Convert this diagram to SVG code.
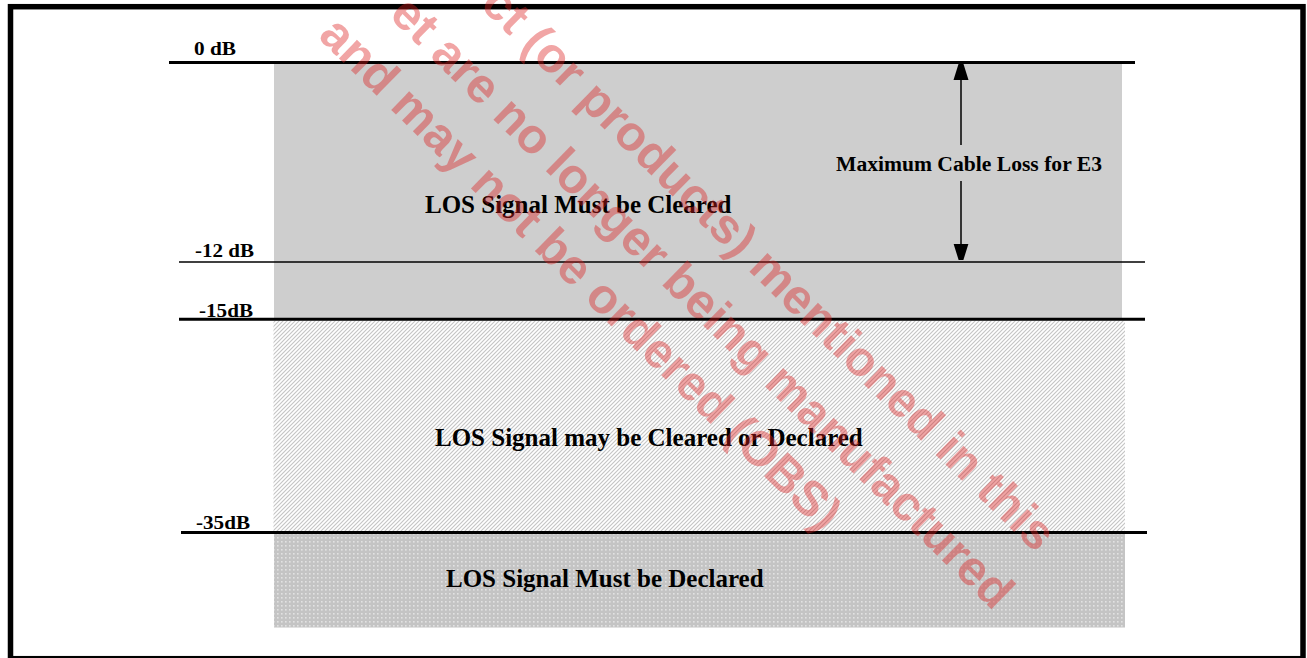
<svg xmlns="http://www.w3.org/2000/svg" width="1307" height="658" viewBox="0 0 1307 658">
  <defs>
    <pattern id="hatch" width="4" height="4" patternUnits="userSpaceOnUse">
      <rect width="4" height="4" fill="#ffffff"/>
      <path d="M-1,1 L1,-1 M0,4 L4,0 M3,5 L5,3" stroke="#c4c4c4" stroke-width="1.1"/>
    </pattern>
    <pattern id="dots" width="4" height="4" patternUnits="userSpaceOnUse">
      <rect width="4" height="4" fill="#c4c4c4"/>
      <rect x="1" y="1" width="1.6" height="1.6" fill="#e2e2e2"/>
    </pattern>
    <marker id="ah" viewBox="0 0 16 24" refX="16" refY="12" markerWidth="16" markerHeight="24" markerUnits="userSpaceOnUse" orient="auto">
      <path d="M0,4.5 L24,12 L0,19.5 Z" fill="#000"/>
    </marker>
    <style>
      .lbl { font-family: "Liberation Serif", "Times New Roman", serif; font-weight: bold; fill: #000; }
      .db { font-size: 18px; }
      .big { font-size: 25px; }
      .wm { font-family: "Liberation Sans", Arial, sans-serif; font-weight: bold; font-size: 49px; fill: #dc1e1e; fill-opacity: 0.4; }
      .lvl { stroke: #000; }
    </style>
  </defs>

  <rect id="frame" x="10.5" y="6.7" width="1292.5" height="652" fill="#fff" stroke="#000" stroke-width="5.5"/>

  <g id="region-cleared">
    <rect x="274" y="64" width="848" height="254" fill="#cecece"/>
    <text class="lbl big" x="425" y="213">LOS Signal Must be Cleared</text>
  </g>
  <g id="region-either">
    <rect x="273.5" y="320.5" width="851.5" height="211" fill="url(#hatch)"/>
    <text class="lbl big" x="435" y="446">LOS Signal may be Cleared or Declared</text>
  </g>
  <g id="region-declared">
    <rect x="274" y="533" width="851" height="94.5" fill="url(#dots)"/>
    <text class="lbl big" x="446" y="587">LOS Signal Must be Declared</text>
  </g>

  <g id="level-0">
    <line class="lvl" x1="169" y1="62.5" x2="1135" y2="62.5" stroke-width="3"/>
    <text class="lbl db" x="194" y="55" textLength="42" lengthAdjust="spacingAndGlyphs">0 dB</text>
  </g>
  <g id="level-12">
    <line class="lvl" x1="179" y1="262" x2="1145" y2="262" stroke-width="1.4"/>
    <text class="lbl db" x="195" y="256.5" textLength="59" lengthAdjust="spacingAndGlyphs">-12 dB</text>
  </g>
  <g id="level-15">
    <line class="lvl" x1="179" y1="319.3" x2="1145" y2="319.3" stroke-width="3"/>
    <text class="lbl db" x="199" y="317" textLength="54" lengthAdjust="spacingAndGlyphs">-15dB</text>
  </g>
  <g id="level-35">
    <line class="lvl" x1="181" y1="532.5" x2="1147" y2="532.5" stroke-width="3"/>
    <text class="lbl db" x="196" y="529" textLength="54" lengthAdjust="spacingAndGlyphs">-35dB</text>
  </g>

  <g id="cable-loss-label">
    <text class="lbl" x="836" y="171" font-size="21.6">Maximum Cable Loss for E3</text>
  </g>

  <g id="connectors">
    <line x1="961" y1="145" x2="961" y2="64" stroke="#000" stroke-width="1.5" marker-end="url(#ah)"/>
    <line x1="961" y1="181" x2="961" y2="259.5" stroke="#000" stroke-width="1.5" marker-end="url(#ah)"/>
  </g>

  <g id="watermark">
    <text class="wm" transform="translate(479,6) rotate(44.5)">ct (or products) mentioned in this</text>
    <text class="wm" transform="translate(388,16) rotate(44.5)">et are no longer being manufactured</text>
    <text class="wm" transform="translate(317,37) rotate(44.5)">and may not be ordered (OBS)</text>
  </g>
</svg>
